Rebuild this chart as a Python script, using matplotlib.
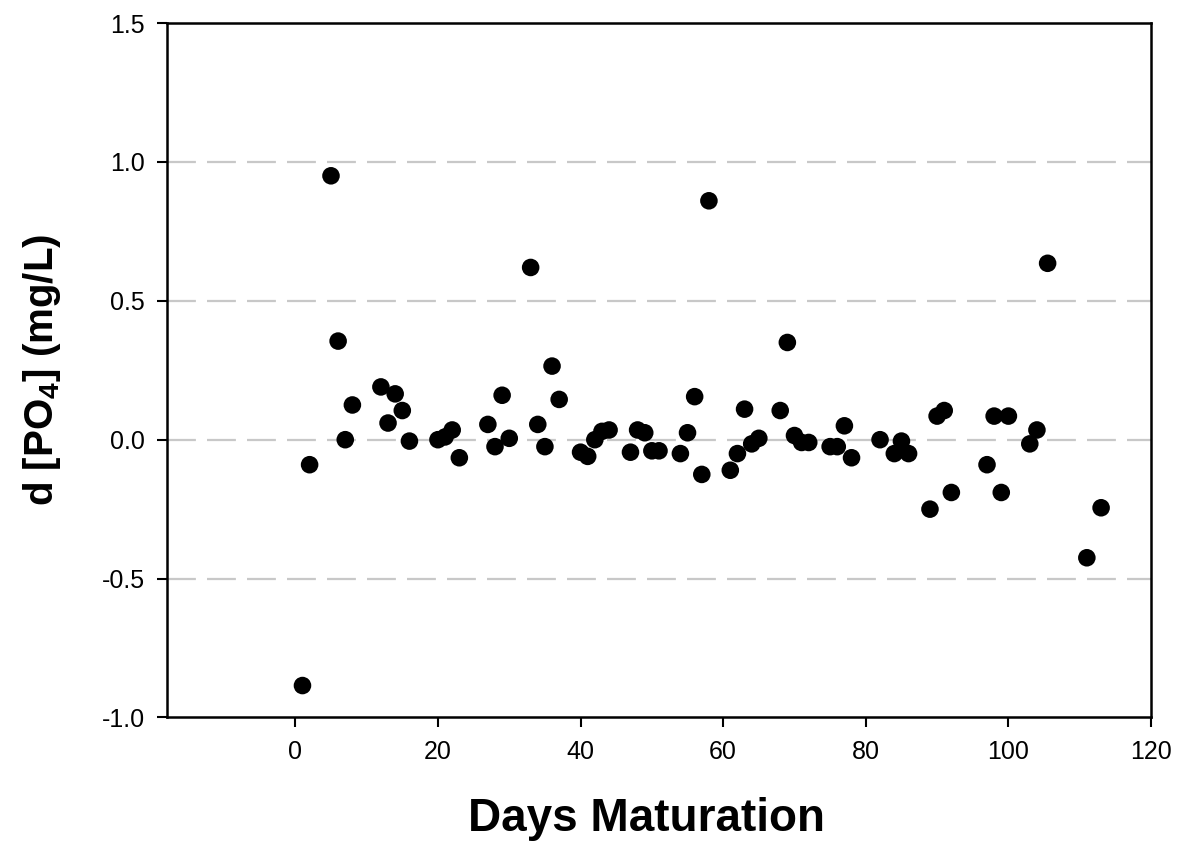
import matplotlib
matplotlib.use("Agg")
import matplotlib.pyplot as plt
import numpy as np

plt.rcParams['font.family'] = ['Liberation Sans', 'DejaVu Sans']
plt.rcParams['mathtext.fontset'] = 'custom'
plt.rcParams['mathtext.rm'] = 'Liberation Sans'
plt.rcParams['mathtext.bf'] = 'Liberation Sans:bold'

# days of maturation and change in phosphate (mg/L)
dias = [1, 2, 5, 6, 7, 8, 12, 13, 14, 15, 16, 20, 21, 22, 23,
        27, 28, 29, 30, 33, 34, 35, 36, 37, 40, 41, 42, 43, 44,
        47, 48, 49, 50, 51, 54, 55, 56, 57, 58, 61, 62, 63, 64, 65,
        68, 69, 70, 71, 72, 75, 76, 77, 78, 82, 84, 85, 86,
        89, 90, 91, 92, 97, 98, 99, 100, 103, 104, 105.5, 111, 113]
fosfato = [-0.885, -0.09, 0.95, 0.355, 0.0, 0.125, 0.19, 0.06, 0.165, 0.105, -0.005, 0.0, 0.01, 0.035, -0.065,
           0.055, -0.025, 0.16, 0.005, 0.62, 0.055, -0.025, 0.265, 0.145, -0.045, -0.06, 0.0, 0.03, 0.035,
           -0.045, 0.035, 0.025, -0.04, -0.04, -0.05, 0.025, 0.155, -0.125, 0.86, -0.11, -0.05, 0.11, -0.015, 0.005,
           0.105, 0.35, 0.015, -0.01, -0.01, -0.025, -0.025, 0.05, -0.065, 0.0, -0.05, -0.005, -0.05,
           -0.25, 0.085, 0.105, -0.19, -0.09, 0.085, -0.19, 0.085, -0.015, 0.035, 0.635, -0.425, -0.245]

xticks = [0, 20, 40, 60, 80, 100, 120]
yticks = [-1.0, -0.5, 0.0, 0.5, 1.0, 1.5]

fig = plt.figure(figsize=(11.86, 8.46), dpi=100)
ax = fig.add_axes([0.1408, 0.1519, 0.8297, 0.8209])

for yv in [-0.5, 0.0, 0.5, 1.0]:
    ax.axhline(yv, color='#c8c8c8', linewidth=1.6, dashes=(13, 5), zorder=1)

ax.scatter(dias, fosfato, s=160, color='black', edgecolors='none', zorder=3)

ax.set_xlim(-18, 120)
ax.set_ylim(-1.0, 1.5)
ax.set_xticks(xticks)
ax.set_yticks(yticks)
ax.set_yticklabels(['%.1f' % v for v in yticks])
ax.tick_params(direction='out', length=7, width=1.5, labelsize=18, pad=9)
for s in ax.spines.values():
    s.set_linewidth(1.8)

ax.set_xlabel('Days Maturation', fontsize=33, fontweight='bold', labelpad=24)
ax.set_ylabel(r'd [PO$_\mathbf{4}$] (mg/L)', fontsize=29, fontweight='bold', labelpad=28)
ax.xaxis.label.set_x(0.487)

fig.savefig('out.png', dpi=100)
